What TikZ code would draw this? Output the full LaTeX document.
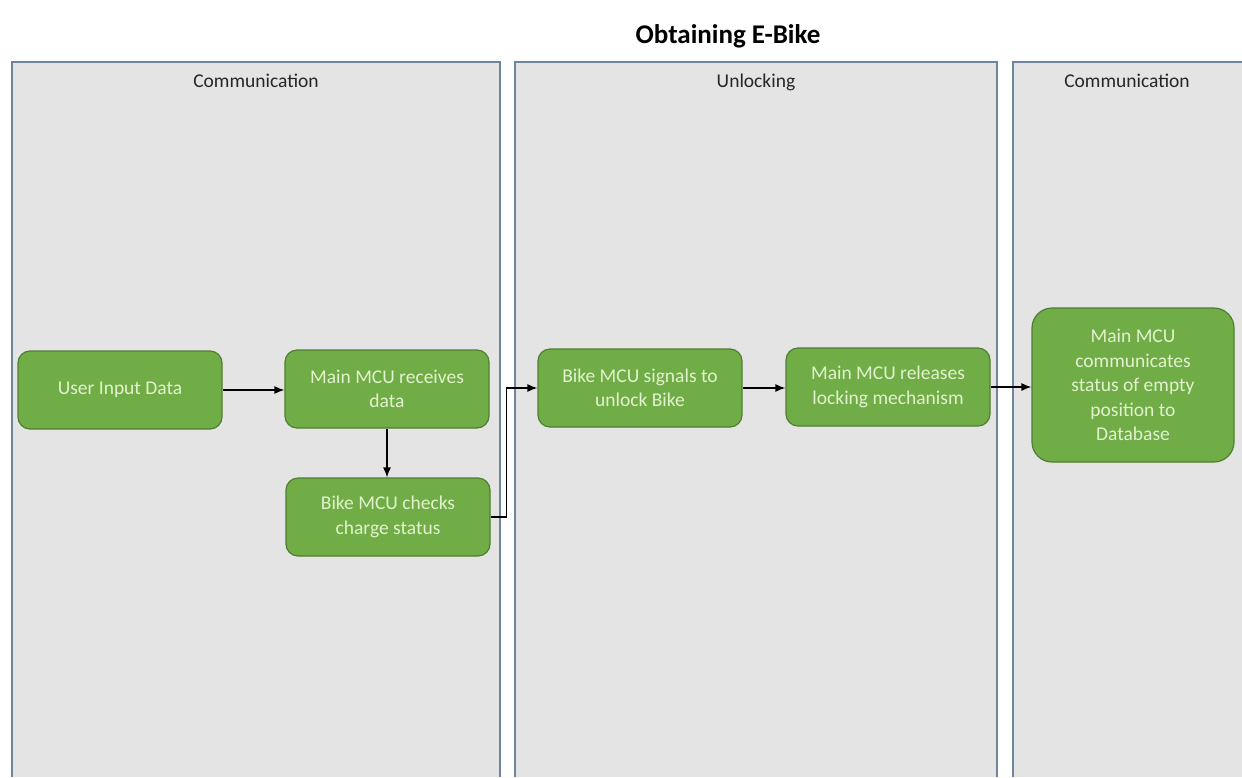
\documentclass[tikz,border=0pt]{standalone}
\usepackage{fontspec}
\setmainfont{Carlito}
\usepackage{tikz}
\usetikzlibrary{arrows.meta,positioning,calc}
\definecolor{LaneFill}{RGB}{228,228,228}
\definecolor{LaneLine}{RGB}{112,132,160}
\definecolor{StepFill}{RGB}{112,173,71}
\definecolor{StepLine}{RGB}{80,126,50}
\definecolor{StepText}{RGB}{226,242,206}

\begin{document}
\begin{tikzpicture}[x=1pt,y=-1pt,
  lanebg/.style={fill=LaneFill},
  laneedge/.style={draw=LaneLine,line width=1.2pt},
  head/.style={font=\fontsize{19.5}{24}\selectfont,text=black!85,anchor=base},
  stepbox/.style={draw=StepLine,fill=StepFill,line width=1.2pt,rounded corners=12pt,
     align=center,text=StepText,font=\fontsize{19.5}{24.5}\selectfont,inner sep=2pt,
     minimum width=204pt,minimum height=78pt},
  tallbox/.style={stepbox,rounded corners=20pt,minimum width=202pt,minimum height=154pt},
  arr/.style={-{Latex[length=10pt,width=8pt]},line width=1.3pt,draw=black}]
\useasboundingbox (0,0) rectangle (1242,777);
% lanes
\fill[lanebg] (12,62) rectangle (500,777);
\fill[lanebg] (515,62) rectangle (997,777);
\fill[lanebg] (1013,62) rectangle (1242,777);
\draw[laneedge] (12,777) |- (500,62) -- (500,777);
\draw[laneedge] (515,777) |- (997,62) -- (997,777);
\draw[laneedge] (1013,777) |- (1242,62);
\node[font=\bfseries\fontsize{27}{32}\selectfont] (title) at (728,36) {Obtaining E-Bike};
\node[head] (comm1) at (256,87) {Communication};
\node[head] (unlock) at (756,87) {Unlocking};
\node[head] (comm2) at (1127,87) {Communication};
% steps
\node[stepbox] (user) at (120,390) {User Input Data};
\node[stepbox] (recv) at (387,389) {Main MCU receives\\data};
\node[stepbox] (check) at (388,517) {Bike MCU checks\\charge status};
\node[stepbox] (signal) at (640,388) {Bike MCU signals to\\unlock Bike};
\node[stepbox] (release) at (888,387) {Main MCU releases\\locking mechanism};
\node[tallbox] (status) at (1133,385) {Main MCU\\communicates\\status of empty\\position to\\Database};
% flow
\draw[arr] (user.east) -- (user.east -| recv.west);
\draw[arr] (recv.south) -- (recv.south |- check.north);
\draw[arr] (check.east) -- ++(16,0) |- (signal.west);
\draw[arr] (signal.east) -- (signal.east -| release.west);
\draw[arr] (release.east) -- (release.east -| status.west);
\end{tikzpicture}
\end{document}
